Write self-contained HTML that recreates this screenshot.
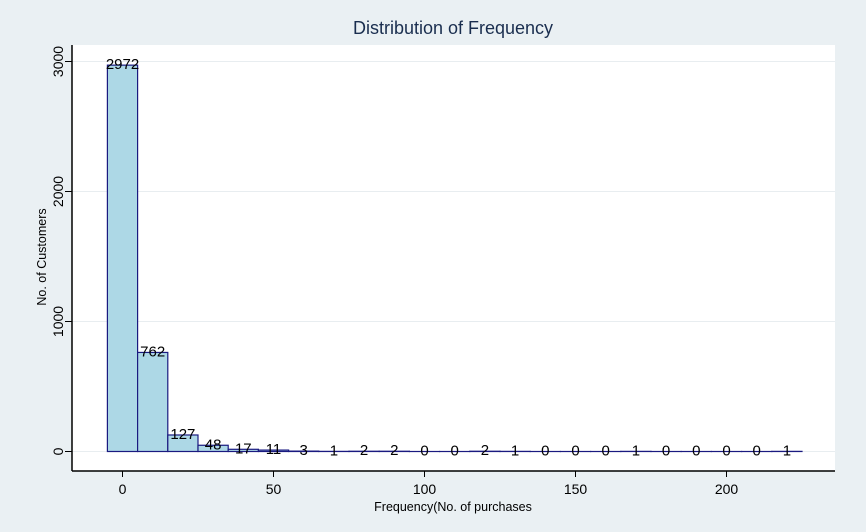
<!DOCTYPE html>
<html><head><meta charset="utf-8">
<style>
html,body{margin:0;padding:0;background:#eaf0f3;}
svg{display:block;font-family:"Liberation Sans",Arial,sans-serif;}
</style></head>
<body>
<svg id="chart" width="866" height="532" viewBox="0 0 866 532" xmlns="http://www.w3.org/2000/svg">
<rect x="0" y="0" width="866" height="532" fill="#eaf0f3"/>
<rect x="72" y="45" width="763" height="426" fill="#ffffff"/>
<text x="453" y="34" text-anchor="middle" font-size="18" fill="#1a2e4f">Distribution of Frequency</text>
<g id="grid"></g>
<g id="bars"></g>
<g id="labels"></g>
<line x1="72" y1="45" x2="72" y2="471" stroke="#000" stroke-width="1.5"/>
<line x1="72" y1="471" x2="835" y2="471" stroke="#000" stroke-width="1.5"/>
<g id="yticks"></g>
<g id="xticks"></g>
<text transform="translate(46,257) rotate(-90)" text-anchor="middle" font-size="12.5" fill="#000">No. of Customers</text>
<text x="453" y="511" text-anchor="middle" font-size="12.5" fill="#000">Frequency(No. of purchases</text>
</svg>
<script>
const binStarts = [-5,5,15,25,35,45,55,65,75,85,95,105,115,125,135,145,155,165,175,185,195,205,215];
const counts = [2972,762,127,48,17,11,3,1,2,2,0,0,2,1,0,0,0,1,0,0,0,0,1];
const binWidth = 10;
const yTicks = [0,1000,2000,3000];
const xTicks = [0,50,100,150,200];

const NS = "http://www.w3.org/2000/svg";
const xs = v => 122.5 + v * 3.02;
const ys = v => 451.5 - v * 0.13;
function mk(tag, attrs, parent, txt){
  const e = document.createElementNS(NS, tag);
  for (const k in attrs) e.setAttribute(k, attrs[k]);
  if (txt !== undefined) e.textContent = txt;
  document.getElementById(parent).appendChild(e);
  return e;
}
yTicks.forEach(t => {
  const g = mk('line', {x1:72, x2:835, y1:ys(t), y2:ys(t), stroke:'#e8edf0', 'stroke-width':1}, 'grid');
  
  
  const tk = mk('line', {x1:65, x2:72, y1:ys(t), y2:ys(t), stroke:'#000', 'stroke-width':1}, 'yticks');
  
  
  const lb = mk('text', {transform:'translate(63,' + ys(t) + ') rotate(-90)', 'text-anchor':'middle', 'font-size':14}, 'yticks', String(t));
  
  
});
xTicks.forEach(t => {
  const tk = mk('line', {x1:xs(t), x2:xs(t), y1:471, y2:477, stroke:'#000', 'stroke-width':1}, 'xticks');
  
  
  const lb = mk('text', {x:xs(t), y:494, 'text-anchor':'middle', 'font-size':14}, 'xticks', String(t));
  
  
});
counts.forEach((c, i) => {
  const x0 = xs(binStarts[i]), x1 = xs(binStarts[i] + binWidth);
  const top = ys(c);
  const r = mk('rect', {x:x0, y:top, width:x1 - x0, height:Math.max(ys(0) - top, 0.01), fill:'#add8e6', stroke:'#1a1a80', 'stroke-width':1.2}, 'bars');
  
  
  const t = mk('text', {x:(x0 + x1) / 2, y:top + 4, 'text-anchor':'middle', 'font-size':15, fill:'#000'}, 'labels', String(c));
  
  
});
</script>
</body></html>
